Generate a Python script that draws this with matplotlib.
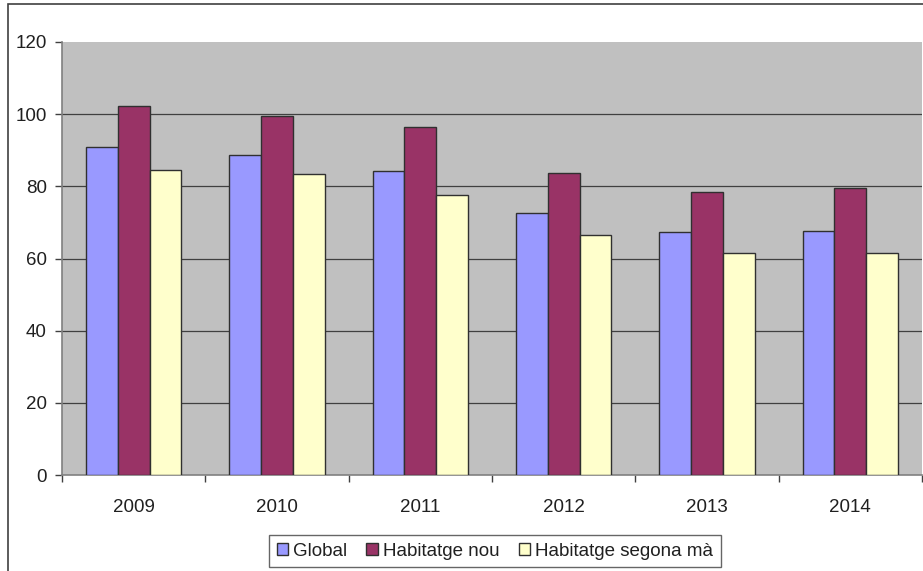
import matplotlib.pyplot as plt
import numpy as np
from matplotlib.patches import Rectangle

plt.rcParams['font.family'] = ['Liberation Sans', 'DejaVu Sans']

# data
years = ['2009', '2010', '2011', '2012', '2013', '2014']
global_vals = [91.0, 88.7, 84.3, 72.6, 67.4, 67.7]
nou_vals = [102.3, 99.5, 96.5, 83.7, 78.4, 79.5]
segona_vals = [84.5, 83.4, 77.6, 66.5, 61.4, 61.4]
series_names = ['Global', 'Habitatge nou', 'Habitatge segona mà']
colors = ['#9999FF', '#993366', '#FFFFCC']

W, H = 923, 571
fig = plt.figure(figsize=(W / 100, H / 100), dpi=100)

# outer chart frame (clipped at right and bottom like the reference)
fig.patches.append(Rectangle((8 / W, -0.1), 1.2, 1.1 - 4 / H, transform=fig.transFigure,
                             fill=False, edgecolor='#404040', linewidth=1.2))

ax = fig.add_axes([62 / W, (H - 475) / H, 860 / W, 433 / H])
ax.set_facecolor('#C0C0C0')

x = np.arange(len(years))
width = 1 / 4.5  # Excel gap width 150%
for i, vals in enumerate([global_vals, nou_vals, segona_vals]):
    ax.bar(x + (i - 1) * width, vals, width, color=colors[i], edgecolor='#303030',
           linewidth=1.0, label=series_names[i], zorder=3)

ax.set_xlim(-0.5, len(years) - 0.5)
ax.set_ylim(0, 120)
ax.set_yticks(range(0, 121, 20))
# gridlines, but not on the top edge
for yv in range(20, 120, 20):
    ax.axhline(yv, color='#404040', linewidth=0.9, zorder=1)

# category labels centered, tick marks on boundaries
ax.set_xticks(x)
ax.set_xticklabels(years)
ax.set_xticks(np.arange(-0.5, len(years)), minor=True)
ax.tick_params(axis='x', which='major', length=0, pad=17, labelsize=13.5, colors='#202020')
ax.tick_params(axis='x', which='minor', length=5, color='#404040', width=1)
ax.tick_params(axis='y', length=5, color='#404040', width=1, labelsize=13.5, colors='#202020', pad=6)

for side in ['top', 'right']:
    ax.spines[side].set_visible(False)
for side in ['left', 'bottom']:
    ax.spines[side].set_color('#808080')
    ax.spines[side].set_linewidth(1.2)

leg = fig.legend(loc='center', bbox_to_anchor=(495 / W, (H - 551) / H), ncol=3,
                 frameon=True, fancybox=False, fontsize=13.5, handlelength=0.6,
                 handleheight=0.6, handletextpad=0.3, columnspacing=1.0,
                 borderpad=0.4, labelcolor='#202020')
leg.get_frame().set_edgecolor('#404040')
leg.get_frame().set_linewidth(1.0)
for h in leg.legend_handles:
    h.set_edgecolor('#303030')

fig.savefig('out.png', dpi=100)
